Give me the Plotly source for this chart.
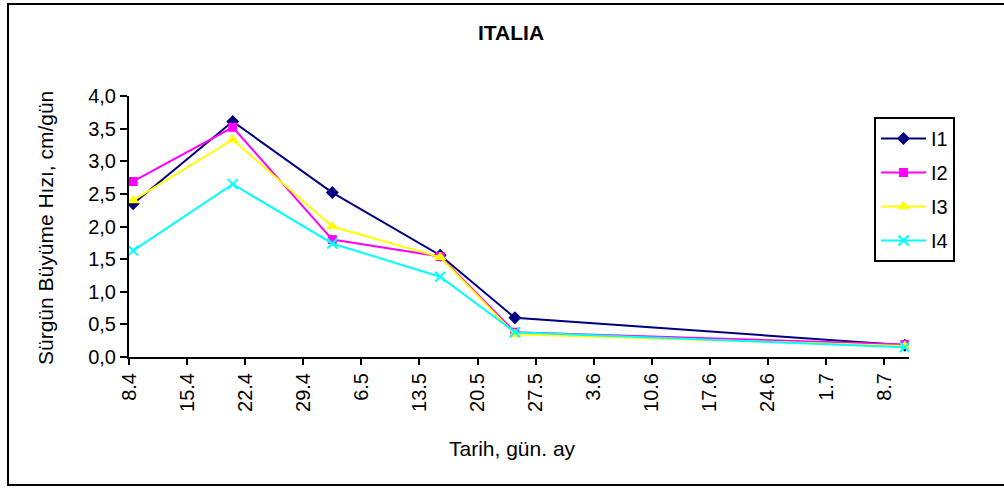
import plotly.graph_objects as go
import pandas as pd

# ---- data ----
dates = ["2004-04-08", "2004-04-20", "2004-05-02", "2004-05-15", "2004-05-24", "2004-07-10"]
series_names = ["I1", "I2", "I3", "I4"]
i1 = [2.35, 3.61, 2.52, 1.56, 0.60, 0.18]
i2 = [2.69, 3.52, 1.80, 1.54, 0.38, 0.19]
i3 = [2.40, 3.33, 2.00, 1.53, 0.35, 0.17]
i4 = [1.63, 2.65, 1.74, 1.23, 0.38, 0.15]
tick_labels = ["8.4", "15.4", "22.4", "29.4", "6.5", "13.5", "20.5", "27.5",
               "3.6", "10.6", "17.6", "24.6", "1.7", "8.7"]
title_text = "ITALIA"
x_title = "Tarih, gün. ay"
y_title = "Sürgün Büyüme Hızı, cm/gün"

# ---- layout geometry (pixels) ----
W, H = 1004, 490
L, R, T, B = 129, 909, 96, 357

def px_x(x):
    return (x - L) / (R - L)

def px_y(y):
    return (B - y) / (B - T)

FONT = "Liberation Sans, Arial, sans-serif"

styles = [
    dict(color="#000080", symbol="diamond", size=10, line=dict(width=0)),
    dict(color="#FF00FF", symbol="square", size=9, line=dict(width=0)),
    dict(color="#FFFF00", symbol="triangle-up", size=11, line=dict(width=0)),
    dict(color="#00FFFF", symbol="x-thin-open", size=10, line=dict(width=2, color="#00FFFF")),
]

fig = go.Figure()
for name, vals, st in zip(series_names, [i1, i2, i3, i4], styles):
    fig.add_trace(go.Scatter(
        x=dates, y=vals, name=name, mode="lines+markers",
        legendgroup=name,
        line=dict(color=st["color"], width=2),
        marker=st,
    ))

# date axis: each day is a slot, ticks at slot left edges
start = pd.Timestamp(dates[0]) - pd.Timedelta(hours=12)
end = pd.Timestamp(dates[-1]) + pd.Timedelta(hours=12)
tickvals = [(start + pd.Timedelta(days=7 * k)).strftime("%Y-%m-%d %H:%M") for k in range(len(tick_labels))]

fig.update_xaxes(
    type="date",
    range=[start.strftime("%Y-%m-%d %H:%M"), end.strftime("%Y-%m-%d %H:%M")],
    tickmode="array", tickvals=tickvals, ticktext=tick_labels,
    tickangle=-90, ticks="outside", ticklen=6, tickwidth=1.5, tickcolor="black",
    showline=True, linecolor="black", linewidth=2, showgrid=False, zeroline=False,
    tickfont=dict(family=FONT, size=20, color="black"),
)
fig.update_yaxes(
    range=[0, 4], dtick=0.5, tick0=0, tickformat=".1f",
    ticks="outside", ticklen=7, tickwidth=1.5, tickcolor="black",
    showline=True, linecolor="black", linewidth=2, showgrid=False, zeroline=False,
    tickfont=dict(family=FONT, size=20, color="black"),
)

fig.update_layout(
    width=W, height=H,
    margin=dict(l=L, r=W - R, t=T, b=H - B),
    paper_bgcolor="white", plot_bgcolor="white",
    separators=",.",
    font=dict(family=FONT, color="black"),
    showlegend=True,
    legend=dict(
        x=px_x(874), y=px_y(117), xanchor="left", yanchor="top",
        bordercolor="black", borderwidth=2, bgcolor="white",
        font=dict(family=FONT, size=20, color="black"),
        tracegroupgap=5, traceorder="grouped", itemwidth=45,
    ),
    annotations=[
        dict(text="<b>" + title_text + "</b>", x=px_x(511), y=px_y(33), xref="paper", yref="paper",
             showarrow=False, font=dict(family=FONT, size=21, color="black"),
             xanchor="center", yanchor="middle"),
        dict(text=x_title, x=px_x(512), y=px_y(449), xref="paper", yref="paper",
             showarrow=False, font=dict(family=FONT, size=21, color="black"),
             xanchor="center", yanchor="middle"),
        dict(text=y_title, x=px_x(45), y=px_y(228), xref="paper", yref="paper",
             showarrow=False, textangle=-90, font=dict(family=FONT, size=21, color="black"),
             xanchor="center", yanchor="middle"),
    ],
    shapes=[
        dict(type="rect", xref="paper", yref="paper",
             x0=px_x(8), x1=px_x(1010), y0=px_y(485), y1=px_y(4),
             line=dict(color="black", width=2), fillcolor="rgba(0,0,0,0)", layer="below"),
    ],
)

fig.write_html("out.html", config={"displayModeBar": False},
               post_script="document.body.style.margin='0';document.body.style.overflow='hidden';")
